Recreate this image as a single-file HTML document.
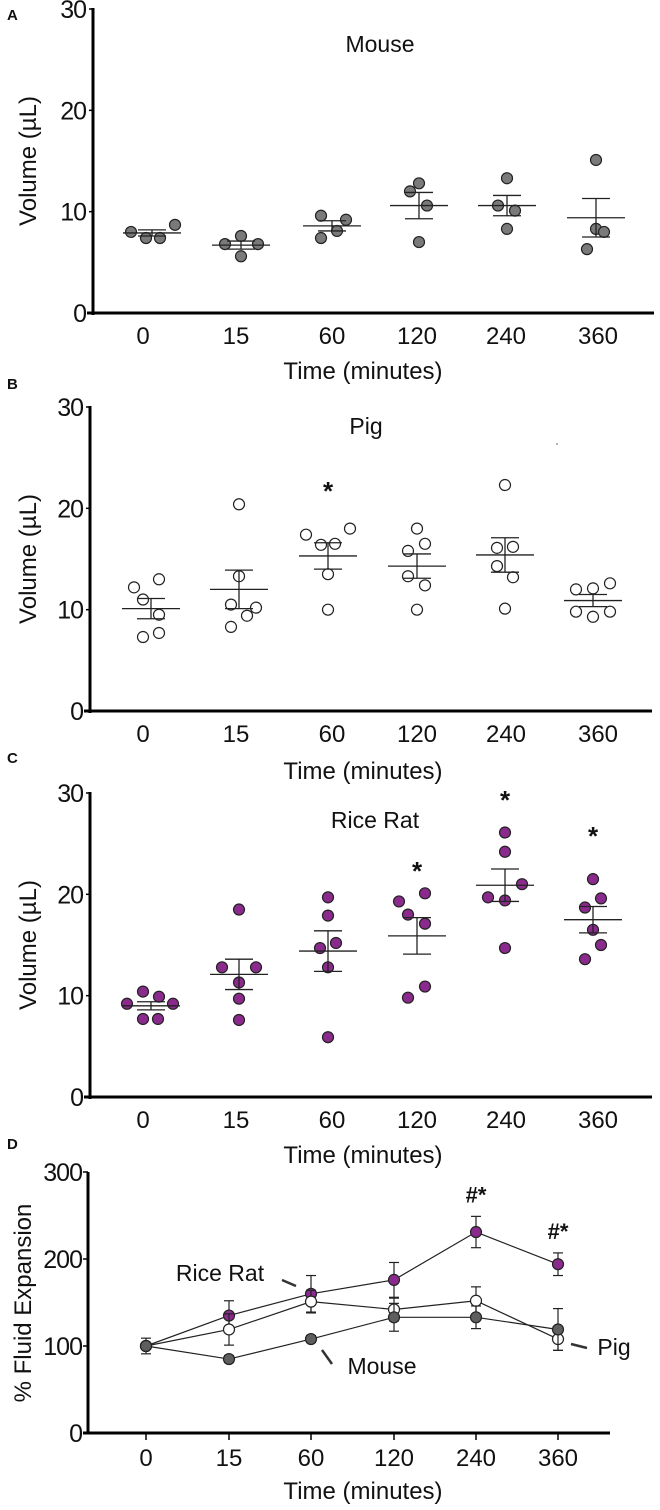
<!DOCTYPE html>
<html><head><meta charset="utf-8"><style>
html,body{margin:0;padding:0;background:#fff}
svg{display:block}
text{font-family:"Liberation Sans",sans-serif;fill:#111}
</style></head><body>
<svg id="fig" width="660" height="1510" viewBox="0 0 660 1510" xmlns="http://www.w3.org/2000/svg"></svg>
<script>
const categories = ["0","15","60","120","240","360"];
const yTicksVol = [0,10,20,30];
const yTicksPct = [0,100,200,300];

const mouseVals = [[8.0,7.4,7.4,8.7],[7.6,6.8,6.8,5.6],[9.6,9.2,8.1,7.4],[12.8,12.0,10.6,7.0],[13.3,10.6,10.1,8.3],[15.1,8.3,8.0,6.3]];
const mouseMean = [7.9,6.7,8.6,10.6,10.6,9.4];
const mouseSem = [0.3,0.4,0.5,1.3,1.0,1.9];
const mouseJit = [[-21,-6,8,23],[0,-16,17,0],[-11,14,5,-11],[0,-9,8,0],[0,-9,8,0],[0,0,8,-9]];

const pigVals = [[13.0,12.2,11.0,9.5,7.7,7.3],[20.4,13.3,10.5,10.2,9.4,8.3],[18.0,17.4,16.5,16.4,13.5,10.0],[18.0,16.5,15.8,13.3,12.4,10.0],[22.3,16.2,16.1,14.3,13.2,10.1],[12.6,12.1,12.0,9.8,9.8,9.3]];
const pigMean = [10.1,12.0,15.3,14.3,15.4,10.9];
const pigSem = [1.0,1.9,1.3,1.2,1.7,0.6];
const pigJit = [[8,-17,-8,8,8,-8],[0,0,-8,17,8,-8],[22,-22,7,-7,0,0],[0,8,-9,-9,8,0],[0,8,-8,-8,8,0],[17,0,-17,-17,17,0]];
const pigStars = [false,false,true,false,false,false];

const ratVals = [[10.4,9.9,9.2,9.2,7.7,7.7],[18.5,12.8,12.8,11.3,9.7,7.6],[19.7,17.9,15.2,14.7,12.8,5.9],[20.1,19.3,18.0,17.1,10.9,9.8],[26.1,24.2,21.0,19.7,19.4,14.7],[21.5,19.6,18.7,16.5,15.0,13.6]];
const ratMean = [9.0,12.1,14.4,15.9,20.9,17.5];
const ratSem = [0.4,1.5,2.0,1.8,1.6,1.3];
const ratJit = [[-8,8,-24,22,-8,7],[0,-17,17,0,0,0],[0,0,8,-8,0,0],[8,-18,-9,8,8,-9],[0,0,17,-17,0,0],[0,8,-8,0,8,-8]];
const ratStars = [false,false,false,true,true,true];

const dRatMean = [100,135,160,176,231,194];
const dRatErr = [0,17,21,20,18,13];
const dPigMean = [100,119,151,142,152,108];
const dPigErr = [0,18,13,13,16,13];
const dMouseMean = [100,85,108,133,133,119];
const dMouseErr = [9,4,4,16,13,24];
const dMarks = ["","","","","#*","#*"];

const svg = document.getElementById('fig');
const NS = "http://www.w3.org/2000/svg";
function el(tag, attrs, parent){
  const e = document.createElementNS(NS, tag);
  for (const k in attrs) e.setAttribute(k, attrs[k]);
  (parent||svg).appendChild(e);
  return e;
}
function txt(s, attrs, parent){ const t = el('text', attrs, parent); t.textContent = s; return t; }

function scatterPanel(o){
  const g = el('g', {});
  
  
  const y = v => o.y0 - (v / 30) * (o.y0 - o.y30);
  const x = i => o.cols[i];
  const lt = txt(o.letter, {x:o.letX, y:o.letY, 'font-size':15, 'font-weight':'bold'}, g);
  
  
  const yax = el('line', {x1:o.ax, x2:o.ax, y1:o.y30-1, y2:o.y0+2, stroke:'#000','stroke-width':3}, g);
  
  
  const xax = el('line', {x1:o.ax-6, x2:o.xEnd, y1:o.y0, y2:o.y0, stroke:'#000','stroke-width':3}, g);
  
  
  yTicksVol.forEach(t => {
    el('line', {x1:o.ax-4, x2:o.ax, y1:y(t), y2:y(t), stroke:'#000','stroke-width':1.5}, g);
    const tl = txt(String(t), {x:o.ax-7, y:y(t)+9, 'font-size':25, 'text-anchor':'end', 'letter-spacing':'-1'}, g);
    
    
  });
  categories.forEach((c,i) => {
    const tl = txt(c, {x:o.labX[i], y:o.y0+31, 'font-size':24, 'text-anchor':'middle'}, g);
    
    
  });
  const yt = txt('Volume (\u00B5L)', {x:0, y:0, 'font-size':24, 'text-anchor':'middle', transform:`translate(36,${(o.y0+o.y30)/2}) rotate(-90)`}, g);
  
  
  const xt = txt('Time (minutes)', {x:363, y:o.xtY, 'font-size':24, 'text-anchor':'middle'}, g);
  
  
  const tt = txt(o.title, {x:o.titleX, y:o.titleY, 'font-size':23, 'text-anchor':'middle'}, g);
  
  
  categories.forEach((c,i) => {
    o.vals[i].forEach((v,j) => {
      const d = el('circle', {cx:x(i)+o.jit[i][j], cy:y(v), r:5.5, fill:o.fill, stroke:'#222','stroke-width':1.2}, g);
      
      
    });
    const m = y(o.mean[i]), hi = y(o.mean[i]+o.sem[i]), lo = y(o.mean[i]-o.sem[i]);
    const eb = el('g', {stroke:'#222','stroke-width':1.3}, g);
    
    
    el('line', {x1:x(i)-29, x2:x(i)+29, y1:m, y2:m}, eb);
    el('line', {x1:x(i), x2:x(i), y1:hi, y2:lo}, eb);
    el('line', {x1:x(i)-14, x2:x(i)+14, y1:hi, y2:hi}, eb);
    el('line', {x1:x(i)-14, x2:x(i)+14, y1:lo, y2:lo}, eb);
    if (o.stars && o.stars[i]) {
      const s = txt('*', {x:x(i), y:o.starY[i], 'font-size':26, 'font-weight':'bold', 'text-anchor':'middle'}, g);
      
      
    }
  });
}

scatterPanel({name:'panel-a-mouse', letter:'A', letX:7, letY:20, ax:93, xEnd:654, y0:313, y30:9,
  cols:[152,241,332,419,507,596], labX:[143,236,332,417,506,598], xtY:379,
  title:'Mouse', titleX:380, titleY:52, vals:mouseVals, mean:mouseMean, sem:mouseSem, jit:mouseJit, fill:'#7a7a7a'});
scatterPanel({name:'panel-b-pig', letter:'B', letX:7, letY:389, ax:90, xEnd:652, y0:711, y30:407,
  cols:[151,239,328,417,505,593], labX:[143,236,332,417,506,598], xtY:779,
  title:'Pig', titleX:366, titleY:434, vals:pigVals, mean:pigMean, sem:pigSem, jit:pigJit, fill:'#fff',
  stars:pigStars, starY:[0,0,500,0,0,0]});
scatterPanel({name:'panel-c-rice-rat', letter:'C', letX:7, letY:763, ax:90, xEnd:652, y0:1097, y30:793,
  cols:[151,239,328,417,505,593], labX:[143,236,332,417,506,598], xtY:1163,
  title:'Rice Rat', titleX:375, titleY:828, vals:ratVals, mean:ratMean, sem:ratSem, jit:ratJit, fill:'#8b2a8d',
  stars:ratStars, starY:[0,0,0,880,809,845]});
el('circle',{cx:557,cy:444,r:0.8,fill:'#555'});

(function(){
  const g = el('g', {});
  
  
  const y0 = 1433, y300 = 1172, ax = 88;
  const y = v => y0 - (v/300)*(y0-y300);
  const cols = [146,229,311,394,476,558];
  const x = i => cols[i];
  const lt = txt('D', {x:7, y:1149, 'font-size':15, 'font-weight':'bold'}, g);
  
  
  const yax = el('line', {x1:ax, x2:ax, y1:y300, y2:y0+1.5, stroke:'#000','stroke-width':3}, g);
  
  
  const xax = el('line', {x1:ax-5, x2:610, y1:y0, y2:y0, stroke:'#000','stroke-width':3}, g);
  
  
  yTicksPct.forEach(t => {
    el('line', {x1:ax-5, x2:ax, y1:y(t), y2:y(t), stroke:'#000','stroke-width':1.5}, g);
    const tl = txt(String(t), {x:ax-6, y:y(t)+9, 'font-size':25, 'text-anchor':'end', 'letter-spacing':'-1'}, g);
    
    
  });
  categories.forEach((c,i) => {
    el('line', {x1:x(i), x2:x(i), y1:y0, y2:y0+7, stroke:'#000','stroke-width':1.5}, g);
    const tl = txt(c, {x:x(i), y:1466, 'font-size':24, 'text-anchor':'middle'}, g);
    
    
  });
  const yt = txt('% Fluid Expansion', {x:0, y:0, 'font-size':24, 'text-anchor':'middle', transform:`translate(31,1303) rotate(-90)`}, g);
  
  
  const xt = txt('Time (minutes)', {x:363, y:1499, 'font-size':24, 'text-anchor':'middle'}, g);
  
  

  function series(name, mean, err, fill){
    const sg = el('g', {}, g);
    
    
    const pts = mean.map((v,i) => x(i)+','+y(v)).join(' ');
    const ln = el('polyline', {points:pts, fill:'none', stroke:'#222','stroke-width':1.2}, sg);
    
    
    mean.forEach((v,i) => {
      if (err[i] > 0) {
        const eb = el('g', {stroke:'#222','stroke-width':1.2}, sg);
        
        
        el('line', {x1:x(i), x2:x(i), y1:y(v+err[i]), y2:y(v-err[i])}, eb);
        el('line', {x1:x(i)-5, x2:x(i)+5, y1:y(v+err[i]), y2:y(v+err[i])}, eb);
        el('line', {x1:x(i)-5, x2:x(i)+5, y1:y(v-err[i]), y2:y(v-err[i])}, eb);
      }
    });
    mean.forEach((v,i) => {
      const d = el('circle', {cx:x(i), cy:y(v), r:5.5, fill:fill, stroke:'#222','stroke-width':1.2}, sg);
      
      
    });
  }
  series('series-rice-rat', dRatMean, dRatErr, '#8b2a8d');
  series('series-pig', dPigMean, dPigErr, '#fff');
  series('series-mouse', dMouseMean, dMouseErr, '#5e5e5e');

  dMarks.forEach((m,i) => {
    if (!m) return;
    const t = txt(m, {x:x(i), y:y(dRatMean[i]+dRatErr[i])-14, 'font-size':22, 'font-weight':'bold', 'text-anchor':'middle'}, g);
    
    
  });

  const labels = [
    ['label-rice-rat','Rice Rat',220,1281,282,1280,296,1286],
    ['label-mouse','Mouse',382,1374,322,1350,332,1364],
    ['label-pig','Pig',614,1355,571,1344,587,1348]
  ];
  labels.forEach(l => {
    const t = txt(l[1], {x:l[2], y:l[3], 'font-size':23, 'text-anchor':'middle'}, g);
    
    
    const ld = el('line', {x1:l[4], y1:l[5], x2:l[6], y2:l[7], stroke:'#333','stroke-width':2.5}, g);
    
    
  });
})();
</script>
</body></html>
